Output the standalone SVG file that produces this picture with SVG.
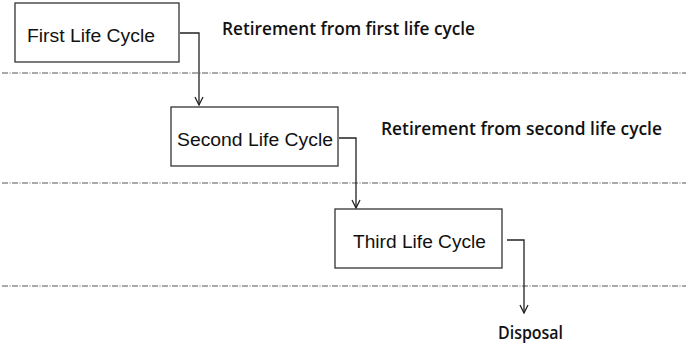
<svg xmlns="http://www.w3.org/2000/svg" width="687" height="343" viewBox="0 0 687 343">
<defs>
<marker id="arr" viewBox="0 0 10 10" refX="9" refY="5" markerWidth="10" markerHeight="10" markerUnits="userSpaceOnUse" orient="auto">
<path d="M1,1 L9,5 L1,9" fill="none" stroke="#222" stroke-width="1.3"/>
</marker>
<style>
.box{fill:#fff;stroke:#333;stroke-width:1.3}
.bt{font-family:"Liberation Sans",Arial,sans-serif;font-size:18px;fill:#111;text-anchor:middle}
.lbl{font-family:"Open Sans","Liberation Sans",sans-serif;font-weight:600;font-size:17.5px;fill:#111}
.sep{stroke:#555;stroke-width:1;stroke-dasharray:6 1.5 1 1.5;fill:none}
.con{fill:none;stroke:#222;stroke-width:1.3;marker-end:url(#arr)}
</style>
</defs>
<rect width="687" height="343" fill="#fff"/>
<g id="separators">
<line class="sep" x1="2" y1="73" x2="686" y2="73"/>
<line class="sep" x1="2" y1="183" x2="686" y2="183"/>
<line class="sep" x1="2" y1="286" x2="686" y2="286"/>
</g>
<g id="connectors">
<path class="con" d="M180,33 H199 V105"/>
<path class="con" d="M339,138 H356 V208"/>
<path class="con" d="M507,240 H524 V313"/>
</g>
<g id="node-first">
<rect class="box" x="15" y="3" width="164" height="59"/>
<text class="bt" x="91" y="42" textLength="128" lengthAdjust="spacingAndGlyphs">First Life Cycle</text>
</g>
<g id="node-second">
<rect class="box" x="171" y="107" width="167" height="59"/>
<text class="bt" x="255" y="146" textLength="156" lengthAdjust="spacingAndGlyphs">Second Life Cycle</text>
</g>
<g id="node-third">
<rect class="box" x="335" y="209" width="167" height="59"/>
<text class="bt" x="419.5" y="248" textLength="133" lengthAdjust="spacingAndGlyphs">Third Life Cycle</text>
</g>
<g id="labels">
<text class="lbl" x="222" y="35" textLength="253" lengthAdjust="spacingAndGlyphs">Retirement from first life cycle</text>
<text class="lbl" x="381" y="135" textLength="281" lengthAdjust="spacingAndGlyphs">Retirement from second life cycle</text>
<text class="lbl" x="498" y="339" textLength="65" lengthAdjust="spacingAndGlyphs">Disposal</text>
</g>
</svg>
